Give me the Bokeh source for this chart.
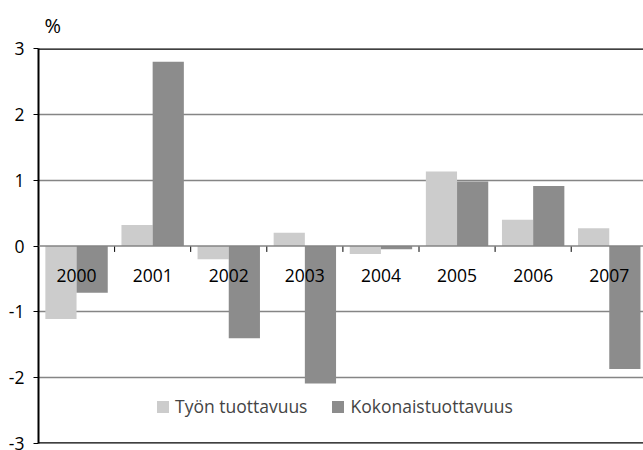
from bokeh.plotting import figure
from bokeh.models import (ColumnDataSource, Range1d, FixedTicker, Legend, LegendItem,
                          Span)
from bokeh.core.properties import value
from bokeh.embed import file_html
from bokeh.resources import INLINE

years = ["2000", "2001", "2002", "2003", "2004", "2005", "2006", "2007"]
tyon_tuottavuus = [-1.11, 0.32, -0.20, 0.20, -0.12, 1.13, 0.40, 0.27]
kokonaistuottavuus = [-0.71, 2.80, -1.40, -2.09, -0.05, 0.98, 0.91, -1.87]
y_ticks = [-3, -2, -1, 0, 1, 2, 3]
series_names = ["Työn tuottavuus", "Kokonaistuottavuus"]
colors = ["#cccccc", "#8c8c8c"]

FONT = "Open Sans"
idx = list(range(len(years)))
bw = 0.41
src = ColumnDataSource(dict(
    x=idx,
    x1=[i - bw / 2 for i in idx],
    x2=[i + bw / 2 for i in idx],
    a=tyon_tuottavuus,
    b=kokonaistuottavuus,
    label=years,
    zero=[0] * len(years),
))

p = figure(width=643, height=450, output_backend="svg", toolbar_location=None,
           x_range=Range1d(-0.5, 7.45), y_range=Range1d(-3, 3),
           min_border_left=38, min_border_right=0, min_border_top=48,
           min_border_bottom=7)
p.outline_line_color = None
p.background_fill_color = "white"
p.border_fill_color = "white"

p.title.text = "%"
p.title.align = "left"
p.title.vertical_align = "top"
p.title.offset = 6
p.title.standoff = 16
p.title.text_font = FONT
p.title.text_font_size = "20px"
p.title.text_font_style = "normal"
p.title.text_color = "black"

p.xaxis.visible = False
p.xgrid.visible = False
p.ygrid.ticker = FixedTicker(ticks=[-2, -1, 1, 2])
p.ygrid.grid_line_color = "#858585"
p.ygrid.grid_line_width = 1.5

yax = p.yaxis[0]
yax.ticker = FixedTicker(ticks=y_ticks)
yax.major_label_overrides = {t: str(t) for t in y_ticks}
yax.axis_line_color = "black"
yax.axis_line_width = 2
yax.major_tick_line_color = "black"
yax.major_tick_line_width = 1
yax.major_tick_out = 5
yax.major_tick_in = 0
yax.minor_tick_line_color = None
yax.major_label_standoff = 9
yax.major_label_text_font = FONT
yax.major_label_text_font_size = "17.5px"
yax.major_label_text_color = "black"

# top / bottom frame lines
p.add_layout(Span(location=3, dimension="width", line_color="black", line_width=2.5))
p.add_layout(Span(location=-3, dimension="width", line_color="black", line_width=2.5))

r1 = p.vbar(x="x1", top="a", bottom=0, width=bw, source=src, fill_color=colors[0], line_color=None)
r2 = p.vbar(x="x2", top="b", bottom=0, width=bw, source=src, fill_color=colors[1], line_color=None)

# zero line and category boundary ticks
p.add_layout(Span(location=0, dimension="width", line_color="#858585", line_width=1.5))
bounds = [i + 0.5 for i in idx[:-1]]
p.segment(x0=bounds, x1=bounds, y0=[0] * len(bounds), y1=[-0.09] * len(bounds),
          line_color="black", line_width=1)

p.text(x="x", y="zero", text="label", source=src, text_align="center",
       text_baseline="alphabetic", y_offset=29, text_font=value(FONT),
       text_font_size="17.5px", text_color="black")

legend = Legend(items=[LegendItem(label=series_names[0], renderers=[r1]),
                       LegendItem(label=series_names[1], renderers=[r2])],
                orientation="horizontal", location=(117, 25),
                background_fill_alpha=0, border_line_color=None,
                label_text_font=FONT, label_text_font_size="17.5px",
                glyph_width=15, glyph_height=15, spacing=23, label_standoff=5,
                padding=0, margin=0)
p.add_layout(legend, "center")

open("out.html", "w").write(file_html(p, INLINE))
